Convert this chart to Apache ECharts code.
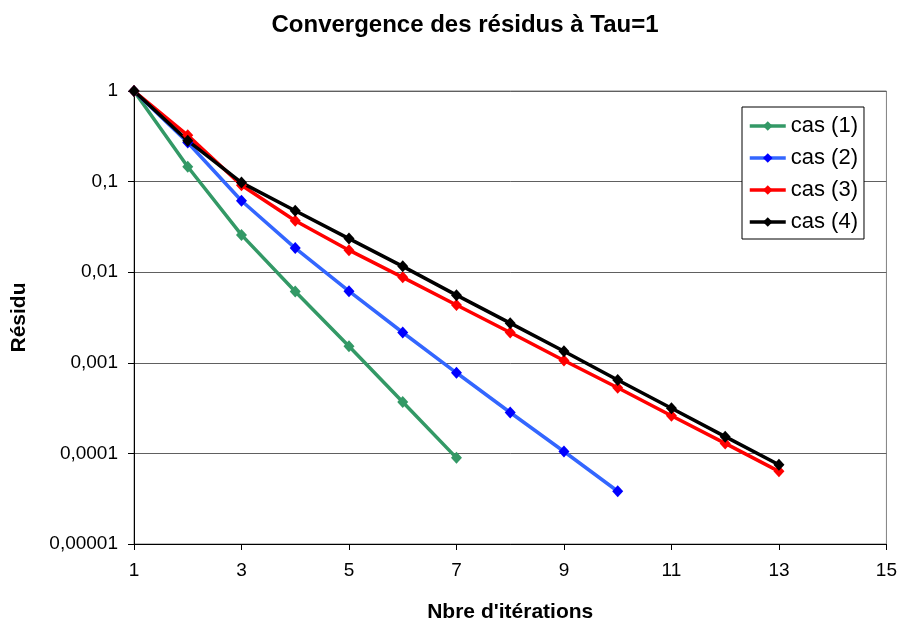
<!DOCTYPE html>
<html>
<head>
<meta charset="utf-8">
<script src="https://cdn.jsdelivr.net/npm/echarts@6/dist/echarts.min.js"></script>
<style>
html,body{margin:0;padding:0;background:#fff;}
#chart{width:900px;height:628px;}
</style>
</head>
<body>
<div id="chart"></div>
<script>
// Data
const iterations = ['1','2','3','4','5','6','7','8','9','10','11','12','13','14','15'];
const cas1 = [1, 0.146, 0.0258, 0.00613, 0.00152, 0.00037, 0.0000893, null, null, null, null, null, null, null, null];
const cas2 = [1, 0.27, 0.0614, 0.01845, 0.00618, 0.00216, 0.000776, 0.000283, 0.000105, 0.0000382, null, null, null, null, null];
const cas3 = [1, 0.324, 0.091, 0.037, 0.0175, 0.00877, 0.00434, 0.00216, 0.00106, 0.000531, 0.00026, 0.000129, 0.0000634, null, null];
const cas4 = [1, 0.283, 0.0975, 0.0477, 0.0235, 0.0116, 0.00558, 0.00274, 0.00134, 0.000645, 0.000315, 0.000153, 0.0000748, null, null];
const seriesNames = ['cas (1)', 'cas (2)', 'cas (3)', 'cas (4)'];

const FONT = '"Liberation Sans", Arial, sans-serif';
const chart = echarts.init(document.getElementById('chart'), null, {renderer: 'canvas'});

function mkSeries(name, data, lineColor, markColor) {
  return {
    name: name,
    type: 'line',
    data: data,
    symbol: 'diamond',
    symbolSize: [11, 12],
    showSymbol: true,
    connectNulls: false,
    lineStyle: {color: lineColor, width: 3.5},
    itemStyle: {color: markColor, borderWidth: 0},
    animation: false,
    emphasis: {disabled: true}
  };
}

function frLabel(v) {
  const e = Math.round(Math.log10(v));
  if (e >= 0) return String(Math.pow(10, e));
  return '0,' + '0'.repeat(-e - 1) + '1';
}

chart.setOption({
  backgroundColor: '#ffffff',
  animation: false,
  title: {
    text: 'Convergence des résidus à Tau=1',
    left: 460, top: 8, textAlign: 'center',
    textStyle: {fontFamily: FONT, fontSize: 24, fontWeight: 'bold', color: '#000'}
  },
  legend: {
    data: seriesNames,
    orient: 'vertical',
    left: 742, top: 107,
    itemWidth: 36, itemHeight: 12,
    itemGap: 10,
    padding: [8, 6, 6, 6],
    borderColor: '#000', borderWidth: 1,
    backgroundColor: '#fff',
    lineStyle: {width: 3.5},
    textStyle: {fontFamily: FONT, fontSize: 22, color: '#000', lineHeight: 22},
    selectedMode: false
  },
  grid: {
    left: 134, right: 11, top: 91, bottom: 81,
    show: true, borderColor: '#808080', borderWidth: 1, backgroundColor: 'transparent'
  },
  xAxis: {
    type: 'category',
    data: iterations,
    boundaryGap: false,
    name: "Nbre d'itérations",
    nameLocation: 'middle',
    nameGap: 58,
    nameTextStyle: {fontFamily: FONT, fontSize: 21, fontWeight: 'bold', color: '#000'},
    axisLine: {lineStyle: {color: '#000', width: 1}},
    axisTick: {show: true, interval: 1, length: 6, lineStyle: {color: '#000'}},
    axisLabel: {interval: 1, fontFamily: FONT, fontSize: 19, color: '#000', margin: 17},
    splitLine: {show: false}
  },
  yAxis: {
    type: 'log',
    logBase: 10,
    min: 0.00001, max: 1,
    name: 'Résidu',
    nameLocation: 'middle',
    nameGap: 104,
    nameTextStyle: {fontFamily: FONT, fontSize: 21, fontWeight: 'bold', color: '#000'},
    axisLine: {show: true, lineStyle: {color: '#000', width: 1}},
    axisTick: {show: true, length: 6, lineStyle: {color: '#000'}},
    axisLabel: {fontFamily: FONT, fontSize: 19, color: '#000', margin: 16, formatter: frLabel},
    splitLine: {show: true, lineStyle: {color: '#606060', width: 1}},
    minorTick: {show: false}
  },
  series: [
    mkSeries(seriesNames[0], cas1, '#339966', '#339966'),
    mkSeries(seriesNames[1], cas2, '#3366FF', '#0000FF'),
    mkSeries(seriesNames[2], cas3, '#FF0000', '#FF0000'),
    mkSeries(seriesNames[3], cas4, '#000000', '#000000')
  ]
});
</script>
</body>
</html>
